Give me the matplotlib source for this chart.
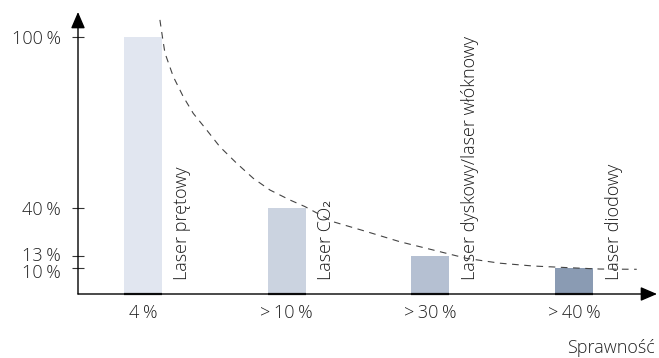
import numpy as np
import matplotlib.pyplot as plt
from matplotlib.transforms import ScaledTranslation

plt.rcParams['font.family'] = ['Open Sans', 'DejaVu Sans']

# data
cats = ['4\u2009%', '>\u200910\u2009%', '>\u200930\u2009%', '>\u200940\u2009%']
values = [100, 40, 13, 10]
names = ['Laser prętowy', 'Laser CO₂', 'Laser dyskowy/laser włóknowy', 'Laser diodowy']
colors = ['#e1e6f0', '#cbd3e0', '#b5c0d2', '#8a9bb3']
yticks = [10, 13, 40, 100]
ylabels = ['10\u2009%', '13\u2009%', '40\u2009%', '100\u2009%']

# dashed trend curve (x in category units, y in %)
curve_x = [0.118, 0.137, 0.153, 0.211, 0.280, 0.350, 0.443, 0.535, 0.652, 0.768, 0.884,
           1.023, 1.127, 1.322, 1.557, 1.789, 2.018, 2.253, 2.484, 2.714, 2.949, 3.180, 3.436]
curve_y = [106.0, 99.5, 94.4, 86.1, 79.1, 73.2, 67.4, 61.5, 55.7, 50.4, 46.3,
           42.8, 40.5, 32.3, 26.7, 21.0, 16.4, 12.4, 11.2, 10.5, 10.1, 9.6, 9.5]

# the value axis is not linear in the original, so map ticks to heights
scale_v = [-100, 0, 10, 13, 40, 100, 200]
scale_h = [-260, 0, 26, 38, 86, 257, 542]

def fwd(v):
    return np.interp(v, scale_v, scale_h)

def inv(h):
    return np.interp(h, scale_h, scale_v)

fig = plt.figure(figsize=(6.59, 3.58), dpi=100)
ax = fig.add_axes([78/659, 64/358, 579/659, 282/358])
ax.set_yscale('function', functions=(fwd, inv))

x = np.arange(len(cats))
w = 0.264
ax.bar(x, values, width=w, color=colors, linewidth=0, zorder=2)
for xi in x:
    ax.plot([xi - w/2, xi + w/2], [0, 0], color='#222222', lw=1.6, solid_capstyle='butt', zorder=3, clip_on=False)

ax.plot(curve_x, curve_y, color='#444444', lw=0.8, dashes=(6, 5), zorder=4, clip_on=False)

for xi, nm in zip(x, names):
    ax.text(xi + w/2 + 0.08, 0.05, nm, rotation=90, ha='left', va='bottom',
            fontsize=13, fontweight='light', color='#1a1a1a', transform=ax.get_xaxis_transform())

ax.set_xlim(-0.452, 3.577)
ax.set_ylim(0, 108.77)

ax.set_xticks(x)
ax.set_xticklabels(cats, fontsize=13, fontweight='light', color='#222222')
ax.tick_params(axis='x', length=0, pad=7)
ax.set_yticks(yticks)
ax.set_yticklabels(ylabels, fontsize=13, fontweight='light', color='#222222')
ax.yaxis.set_minor_locator(plt.NullLocator())
ax.tick_params(axis='y', direction='inout', length=8.6, width=0.8, pad=8, color='#333333')

# nudge the two close labels apart like in the original
nudge = {'10\u2009%': -2.5, '13\u2009%': 1.5}
for lab in ax.get_yticklabels():
    d = nudge.get(lab.get_text(), 0)
    if d:
        lab.set_transform(lab.get_transform() + ScaledTranslation(0, d/72, fig.dpi_scale_trans))

for s in ax.spines.values():
    s.set_visible(False)

arr = dict(arrowstyle='-|>,head_length=1.0,head_width=0.43', color='black', lw=1.0,
           shrinkA=0, shrinkB=0, mutation_scale=10)
ax.annotate('', xy=(0, 1), xytext=(0, 0), xycoords='axes fraction', arrowprops=arr)
ax.annotate('', xy=(1, 0), xytext=(0, 0), xycoords='axes fraction', arrowprops=arr)

fig.text(655/659, 1 - 353/358, 'Sprawność', ha='right', va='baseline', fontsize=13,
         fontweight='light', color='#222222')

fig.savefig('out.png', dpi=100)
